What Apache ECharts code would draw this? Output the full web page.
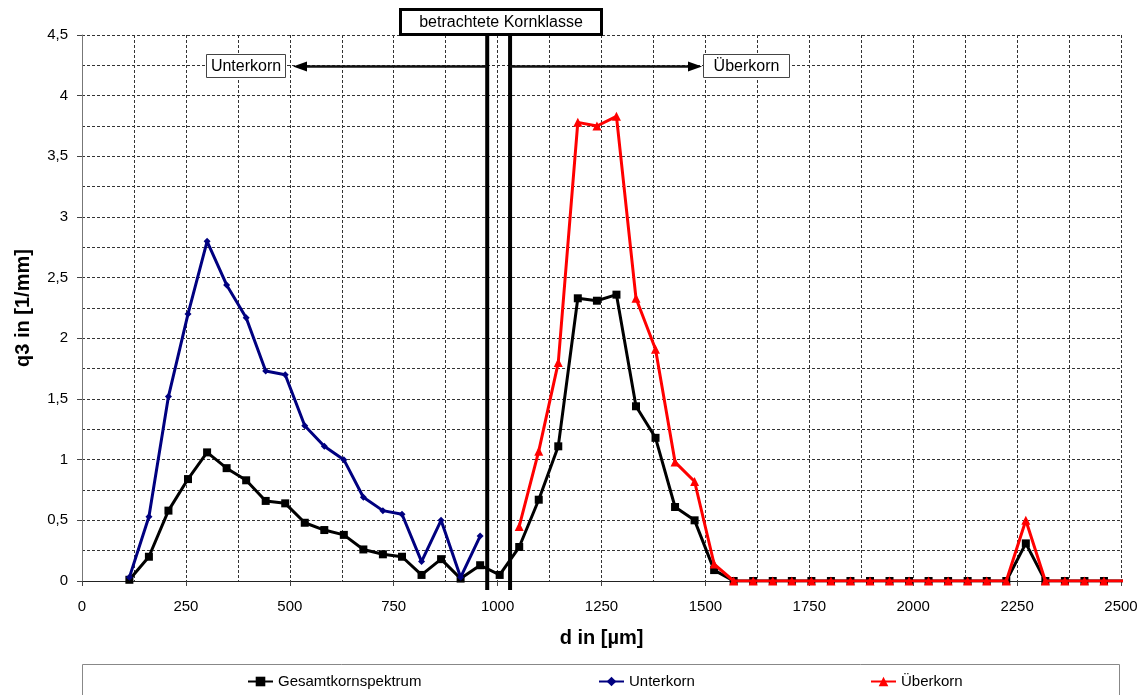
<!DOCTYPE html>
<html>
<head>
<meta charset="utf-8">
<script src="https://cdn.jsdelivr.net/npm/echarts@6/dist/echarts.min.js"></script>
<style>html,body{margin:0;padding:0;background:#fff;}#c{width:1144px;height:695px;}</style>
</head>
<body>
<div id="c"></div>
<script>
// particle size class midpoints d in µm
const dValues = [114,161,208,255,301,348,395,442,489,536,583,630,677,724,770,817,864,911,958,1005,
  1052,1099,1146,1193,1239,1286,1333,1380,1427,1474,1521,1568,1615,1662,1708,1755,1802,1849,1896,1943,
  1990,2037,2084,2131,2177,2224,2271,2318,2365,2412,2459,2506];
// Gesamtkornspektrum (all classes)
const gesamt = [0.01,0.20,0.58,0.84,1.06,0.93,0.83,0.66,0.64,0.48,0.42,0.38,0.26,0.22,0.20,0.05,0.18,0.02,0.13,0.05,
  0.28,0.67,1.11,2.33,2.31,2.36,1.44,1.18,0.61,0.50,0.09,0,0,0,0,0,0,0,0,0,
  0,0,0,0,0,0,0.31,0,0,0,0,0];
// Unterkorn (classes 0..18)
const unterkorn = [0.03,0.53,1.52,2.20,2.80,2.44,2.17,1.73,1.70,1.28,1.11,1.00,0.69,0.58,0.55,0.16,0.50,0.03,0.37];
const unterkornStart = 0;
// Überkorn (classes 20..51)
const ueberkorn = [0.45,1.07,1.80,3.78,3.75,3.83,2.33,1.91,0.98,0.82,0.14,0,0,0,0,0,0,0,0,0,
  0,0,0,0,0,0,0.50,0,0,0,0,0];
const ueberkornStart = 20;
const xTicks = {min:0, max:2500, interval:250};
const yTicks = {min:0, max:4.5, interval:0.5};
const seriesNames = ['Gesamtkornspektrum','Unterkorn','Überkorn'];

function pairs(vals, start){ return vals.map((v,i)=>[dValues[start+i], v]); }

const FONT = '"Liberation Sans", Arial, sans-serif';
const chart = echarts.init(document.getElementById('c'), null, {renderer:'canvas'});
const grid = {left:82, right:23, top:35, bottom:114};
const dash = {color:'#333', width:1, type:[3,2]};
const legendText = {fontFamily:FONT, fontSize:15, color:'#000'};

const option = {
  animation:false,
  backgroundColor:'#fff',
  textStyle:{fontFamily:FONT},
  grid: grid,
  xAxis:{
    type:'value', min:xTicks.min, max:xTicks.max, interval:xTicks.interval,
    name:'d in [µm]', nameLocation:'middle', nameGap:47,
    nameTextStyle:{fontFamily:FONT, fontSize:20, fontWeight:'bold', color:'#000'},
    axisLine:{show:true, onZero:false, lineStyle:{color:'#222', width:1}},
    axisTick:{show:true, inside:false, length:5, lineStyle:{color:'#444'}},
    axisLabel:{fontFamily:FONT, fontSize:15, color:'#000', margin:18, formatter:v=>String(v)},
    splitLine:{show:true, lineStyle:dash},
    minorTick:{show:false, splitNumber:2},
    minorSplitLine:{show:true, lineStyle:dash}
  },
  yAxis:{
    type:'value', min:yTicks.min, max:yTicks.max, interval:yTicks.interval,
    name:'q3 in [1/mm]', nameLocation:'middle', nameGap:49, nameRotate:90,
    nameTextStyle:{fontFamily:FONT, fontSize:20, fontWeight:'bold', color:'#000'},
    axisLine:{show:true, lineStyle:{color:'#777', width:1}},
    axisTick:{show:true, inside:false, length:5, lineStyle:{color:'#444'}},
    axisLabel:{fontFamily:FONT, fontSize:15, color:'#000', margin:14,
      formatter:v=>String(v).replace('.', ',')},
    splitLine:{show:true, lineStyle:dash},
    minorTick:{show:false, splitNumber:2},
    minorSplitLine:{show:true, lineStyle:dash}
  },
  legend:[
    {data:[seriesNames[0]], left:247, top:674, padding:0, itemWidth:25, itemHeight:12, itemGap:0, textStyle:legendText},
    {data:[seriesNames[1]], left:598, top:674, padding:0, itemWidth:25, itemHeight:12, itemGap:0, textStyle:legendText},
    {data:[seriesNames[2]], left:870, top:674, padding:0, itemWidth:25, itemHeight:12, itemGap:0, textStyle:legendText}
  ],
  series:[
    {name:seriesNames[0], type:'line', data:pairs(gesamt,0), symbol:'rect', symbolSize:8, showAllSymbol:true,
      lineStyle:{color:'#000', width:3}, itemStyle:{color:'#000'}, z:3, clip:true},
    {name:seriesNames[1], type:'line', data:pairs(unterkorn,unterkornStart), symbol:'diamond', symbolSize:7, showAllSymbol:true,
      lineStyle:{color:'#000080', width:3}, itemStyle:{color:'#000080'}, z:4, clip:true},
    {name:seriesNames[2], type:'line', data:pairs(ueberkorn,ueberkornStart), symbol:'triangle', symbolSize:9, showAllSymbol:true,
      lineStyle:{color:'#ff0000', width:3}, itemStyle:{color:'#ff0000'}, z:5, clip:true}
  ]
};
chart.setOption(option);

// annotation layer (drawing shapes on the chart)
const lineL = 975, lineR = 1030;
const pL = chart.convertToPixel({gridIndex:0}, [lineL, 0]);
const pR = chart.convertToPixel({gridIndex:0}, [lineR, 0]);
const topY = chart.convertToPixel({gridIndex:0}, [0, 4.5])[1];
const arrowY = 66.5;
const graphics = [
  // legend frame
  {type:'rect', shape:{x:82.5, y:664.5, width:1037, height:40}, style:{fill:'none', stroke:'#888', lineWidth:1}, z:1},
  // vertical class boundaries
  {type:'line', shape:{x1:pL[0], y1:topY, x2:pL[0], y2:590}, style:{stroke:'#000', lineWidth:4}, z:10},
  {type:'line', shape:{x1:pR[0], y1:topY, x2:pR[0], y2:590}, style:{stroke:'#000', lineWidth:4}, z:10},
  // arrows
  {type:'line', shape:{x1:pL[0], y1:arrowY, x2:305, y2:arrowY}, style:{stroke:'#111', lineWidth:2.5}, z:10},
  {type:'polygon', shape:{points:[[293,arrowY],[307,arrowY-5],[307,arrowY+5]]}, style:{fill:'#000'}, z:10},
  {type:'line', shape:{x1:pR[0], y1:arrowY, x2:690, y2:arrowY}, style:{stroke:'#111', lineWidth:2.5}, z:10},
  {type:'polygon', shape:{points:[[702,arrowY],[688,arrowY-5],[688,arrowY+5]]}, style:{fill:'#000'}, z:10},
  // label boxes
  {type:'rect', shape:{x:206.5, y:54.5, width:79, height:23}, style:{fill:'#fff', stroke:'#444', lineWidth:1}, z:11},
  {type:'text', x:246, y:66.5, style:{text:'Unterkorn', fontFamily:FONT, fontSize:16, fill:'#000', align:'center', verticalAlign:'middle'}, z:12},
  {type:'rect', shape:{x:703.5, y:54.5, width:86, height:23}, style:{fill:'#fff', stroke:'#444', lineWidth:1}, z:11},
  {type:'text', x:746.5, y:66.5, style:{text:'Überkorn', fontFamily:FONT, fontSize:16, fill:'#000', align:'center', verticalAlign:'middle'}, z:12},
  {type:'rect', shape:{x:400.5, y:9.5, width:201, height:25}, style:{fill:'#fff', stroke:'#000', lineWidth:3}, z:11},
  {type:'text', x:501, y:22.5, style:{text:'betrachtete Kornklasse', fontFamily:FONT, fontSize:16, fill:'#000', align:'center', verticalAlign:'middle'}, z:12}
];
chart.setOption({graphic:graphics});
</script>
</body>
</html>
